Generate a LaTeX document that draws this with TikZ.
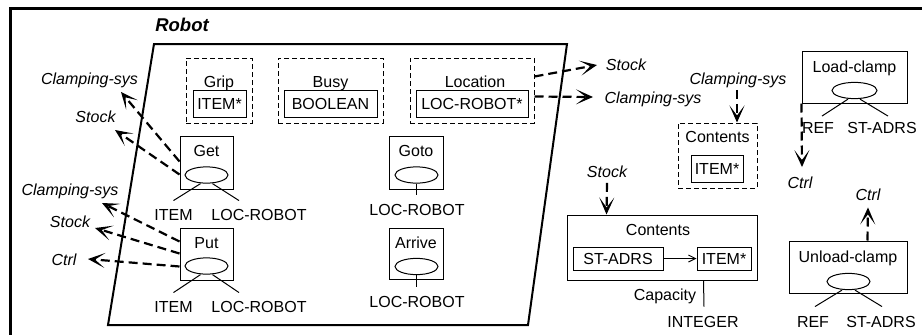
\documentclass[tikz,border=0pt]{standalone}
\usepackage{fontspec}
\setmainfont{Liberation Sans}
\usetikzlibrary{arrows.meta,shapes.geometric,calc}
\begin{document}
\begin{tikzpicture}[x=1pt,y=-1pt,
  every node/.style={font=\fontsize{16}{19}\selectfont, inner sep=0pt,
    text height=11.5pt, text depth=0pt},
  frame/.style={line width=3pt},
  robot/.style={line width=2pt, line join=miter},
  dbox/.style={draw, line width=1pt, dash pattern=on 5pt off 3pt},
  sbox/.style={draw, line width=1pt},
  evt/.style={draw, ellipse, line width=1pt, minimum width=43pt, minimum height=14pt},
  lnk/.style={line width=1pt},
  it/.style={font=\fontsize{16}{19}\selectfont\itshape},
  dep/.style={line width=2.2pt, dash pattern=on 9pt off 5pt,
    -{Stealth[open, length=17pt, width=15pt, inset=10pt, line width=2pt]}},
  thin arrow/.style={line width=1pt, -{Straight Barb[length=7pt, width=7pt]}}]
\useasboundingbox (0,0) rectangle (922,335);

% outer frame (open to the right and bottom)
\draw[frame] (10,335) -- (10,8) -- (922,8);
\node[font=\fontsize{18.5}{22}\selectfont\bfseries\itshape, text height=13.5pt] (robotT) at (182,25) {Robot};

% Robot class region
\draw[robot] (154,44) -- (567,44) -- (528,325) -- (108,325) -- cycle;

% attributes
\node[dbox, minimum width=66pt, minimum height=65pt] (grip) at (219,90.5) {};
\node (gripT) at (219,82) {Grip};
\node[sbox, minimum width=53pt, minimum height=27pt] (gripV) at (219.5,103.5) {ITEM*};

\node[dbox, minimum width=105pt, minimum height=65pt] (busy) at (330.5,90.5) {};
\node (busyT) at (330.5,82) {Busy};
\node[sbox, minimum width=93pt, minimum height=27pt] (busyV) at (330.5,103.5) {BOOLEAN};

\node[dbox, minimum width=124pt, minimum height=65pt] (loc) at (472,90.5) {};
\node (locT) at (475,82) {Location};
\node[sbox, minimum width=112pt, minimum height=27pt] (locV) at (472,103.5) {LOC-ROBOT*};

% events
\node[sbox, minimum width=53pt, minimum height=53pt] (get) at (206.5,162.5) {};
\node (getT) at (206.5,151) {Get};
\node[evt] (getE) at (206.5,175) {};
\node (getI) at (173.5,215) {ITEM};
\node (getL) at (259,215) {LOC-ROBOT};
\draw[lnk] ($(getE.south)+(-6,0)$) -- ($(getI.north)+(0,-8.5)$);
\draw[lnk] ($(getE.south)+(6,0)$) -- ($(getL.north)+(-20,-8.5)$);

\node[sbox, minimum width=53pt, minimum height=52pt] (put) at (206.5,254) {};
\node (putT) at (206.5,243) {Put};
\node[evt] (putE) at (206.5,266) {};
\node (putI) at (173.5,307) {ITEM};
\node (putL) at (259,307) {LOC-ROBOT};
\draw[lnk] ($(putE.south)+(-6,0)$) -- ($(putI.north)+(0,-8.5)$);
\draw[lnk] ($(putE.south)+(6,0)$) -- ($(putL.north)+(-20,-8.5)$);

\node[sbox, minimum width=54pt, minimum height=53pt] (goto) at (416,162.5) {};
\node (gotoT) at (416,151) {Goto};
\node[evt] (gotoE) at (416.5,175) {};
\node (gotoL) at (417,210) {LOC-ROBOT};
\draw[lnk] (gotoE.south) -- ($(gotoL.north)+(-0.5,-9.5)$);

\node[sbox, minimum width=54pt, minimum height=51pt] (arr) at (416,253.5) {};
\node (arrT) at (416,243) {Arrive};
\node[evt] (arrE) at (416.5,266.5) {};
\node (arrL) at (417,302) {LOC-ROBOT};
\draw[lnk] (arrE.south) -- ($(arrL.north)+(-0.5,-9.5)$);

% external references of the Robot class
\node[it] (gcs) at (89.5,79) {Clamping-sys};
\node[it] (gst) at (95.5,117) {Stock};
\coordinate (gcsTip) at (121,92);
\coordinate (gstTip) at (115,130);
\draw[dep] ($(get.north west)+(0,26)$) -- (gcsTip);
\draw[dep] ($(get.north west)+(0,39)$) -- (gstTip);

\node[it] (pcs) at (70,190) {Clamping-sys};
\node[it] (pst) at (70,222) {Stock};
\node[it] (pct) at (64,260) {Ctrl};
\coordinate (pcsTip) at (102,203);
\coordinate (pstTip) at (95,228);
\coordinate (pctTip) at (88,259);
\draw[dep] ($(put.north west)+(0,14)$) -- (pcsTip);
\draw[dep] ($(put.north west)+(0,26)$) -- (pstTip);
\draw[dep] ($(put.north west)+(0,39)$) -- (pctTip);

\node[it] (lst) at (626,65) {Stock};
\node[it] (lcs) at (653,98) {Clamping-sys};
\coordinate (lstTip) at (597,65);
\coordinate (lcsTip) at (593,97);
\draw[dep] ($(loc.north east)+(0,19)$) -- (lstTip);
\draw[dep] ($(loc.north east)+(0,39)$) -- (lcsTip);

% Clamping-sys class
\node[it] (ccs) at (738,79) {Clamping-sys};
\node[dbox, minimum width=79pt, minimum height=65pt] (ccont) at (717.5,155.5) {};
\node (ccontT) at (717.5,137) {Contents};
\node[sbox, minimum width=52pt, minimum height=27pt] (ccontV) at (717,168.5) {ITEM*};
\draw[dep] ($(ccs.south)+(-1,5)$) -- ($(ccont.north)+(19.5,0)$);

% Stock class
\node[it] (sst) at (607,172) {Stock};
\node[sbox, minimum width=190pt, minimum height=65pt] (scont) at (662,247.5) {};
\node (scontT) at (658,230) {Contents};
\node[sbox, minimum width=90pt, minimum height=23pt] (sadr) at (618,258.5) {ST-ADRS};
\node[sbox, minimum width=54pt, minimum height=23pt] (sitem) at (724,258.5) {ITEM*};
\draw[thin arrow] (sadr.east) -- (sitem.west);
\draw[dep] ($(sst.south)+(0,5)$) -- ($(scont.north west)+(40,0)$);
\node (cap) at (665,295) {Capacity};
\node (int) at (703,322) {INTEGER};
\draw[lnk] ($(scont.south west)+(137,0)$) -- ($(int.north)+(1,-9.5)$);

% Load-clamp
\node[sbox, minimum width=105pt, minimum height=52pt] (load) at (854.5,77) {};
\node (loadT) at (854.5,67) {Load-clamp};
\node[evt, minimum width=45pt, minimum height=15pt] (loadE) at (854.5,90.5) {};
\node (loadR) at (818,128) {REF};
\node (loadS) at (882,128) {ST-ADRS};
\draw[lnk] ($(loadE.south)+(-6.5,0)$) -- ($(loadR.north)+(4,-6)$);
\draw[lnk] ($(loadE.south)+(5.5,0)$) -- ($(loadS.north)+(6,-6)$);
\node[it] (lctl) at (800,183) {Ctrl};
\draw[dep] (load.south west) -- ($(lctl.north)+(2,-10)$);

% Unload-clamp
\node[sbox, minimum width=118pt, minimum height=52pt] (unl) at (848,267) {};
\node (unlT) at (848,257) {Unload-clamp};
\node[evt] (unlE) at (848.5,281.5) {};
\node (unlR) at (813,322) {REF};
\node (unlS) at (881,322) {ST-ADRS};
\draw[lnk] ($(unlE.south)+(-6.5,0)$) -- ($(unlR.north)+(2,-9.5)$);
\draw[lnk] ($(unlE.south)+(6.5,0)$) -- ($(unlS.north)+(1,-9.5)$);
\node[it] (uctl) at (868,195) {Ctrl};
\draw[dep] ($(unl.north west)+(79,0)$) -- ($(uctl.south)+(0,6.5)$);

\end{tikzpicture}
\end{document}
